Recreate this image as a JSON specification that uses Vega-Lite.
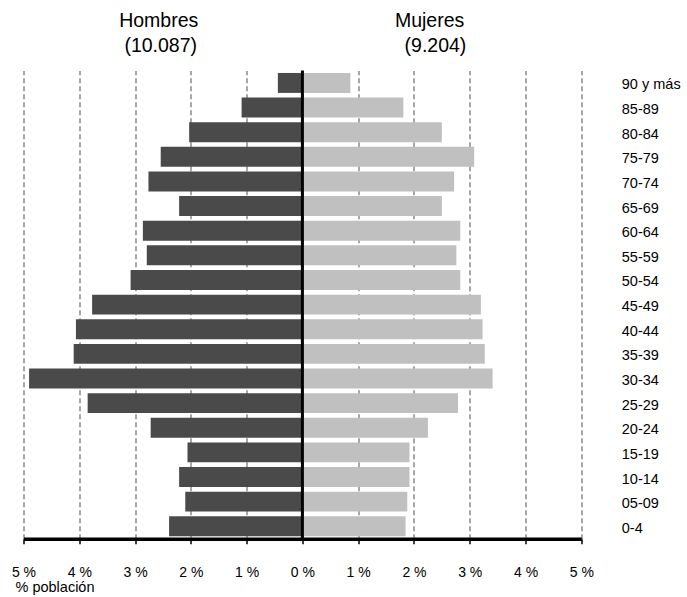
{
  "$schema": "https://vega.github.io/schema/vega-lite/v6.json",
  "width": 557.8,
  "height": 468.2,
  "autosize": {"type": "none"},
  "padding": {"left": 23.5, "top": 70.5, "right": 105.7, "bottom": 58.3},
  "background": "white",
  "config": {
    "view": {"stroke": null},
    "font": "Liberation Sans",
    "text": {"font": "Liberation Sans"}
  },
  "data": {
    "values": [
      {"edad": "90 y más", "sexo": "Hombres", "pct": -0.44}, {"edad": "90 y más", "sexo": "Mujeres", "pct": 0.86},
      {"edad": "85-89", "sexo": "Hombres", "pct": -1.09}, {"edad": "85-89", "sexo": "Mujeres", "pct": 1.81},
      {"edad": "80-84", "sexo": "Hombres", "pct": -2.03}, {"edad": "80-84", "sexo": "Mujeres", "pct": 2.50},
      {"edad": "75-79", "sexo": "Hombres", "pct": -2.54}, {"edad": "75-79", "sexo": "Mujeres", "pct": 3.08},
      {"edad": "70-74", "sexo": "Hombres", "pct": -2.76}, {"edad": "70-74", "sexo": "Mujeres", "pct": 2.72},
      {"edad": "65-69", "sexo": "Hombres", "pct": -2.21}, {"edad": "65-69", "sexo": "Mujeres", "pct": 2.50},
      {"edad": "60-64", "sexo": "Hombres", "pct": -2.86}, {"edad": "60-64", "sexo": "Mujeres", "pct": 2.83},
      {"edad": "55-59", "sexo": "Hombres", "pct": -2.79}, {"edad": "55-59", "sexo": "Mujeres", "pct": 2.76},
      {"edad": "50-54", "sexo": "Hombres", "pct": -3.08}, {"edad": "50-54", "sexo": "Mujeres", "pct": 2.83},
      {"edad": "45-49", "sexo": "Hombres", "pct": -3.77}, {"edad": "45-49", "sexo": "Mujeres", "pct": 3.20},
      {"edad": "40-44", "sexo": "Hombres", "pct": -4.06}, {"edad": "40-44", "sexo": "Mujeres", "pct": 3.23},
      {"edad": "35-39", "sexo": "Hombres", "pct": -4.10}, {"edad": "35-39", "sexo": "Mujeres", "pct": 3.27},
      {"edad": "30-34", "sexo": "Hombres", "pct": -4.90}, {"edad": "30-34", "sexo": "Mujeres", "pct": 3.41},
      {"edad": "25-29", "sexo": "Hombres", "pct": -3.85}, {"edad": "25-29", "sexo": "Mujeres", "pct": 2.79},
      {"edad": "20-24", "sexo": "Hombres", "pct": -2.72}, {"edad": "20-24", "sexo": "Mujeres", "pct": 2.25},
      {"edad": "15-19", "sexo": "Hombres", "pct": -2.06}, {"edad": "15-19", "sexo": "Mujeres", "pct": 1.92},
      {"edad": "10-14", "sexo": "Hombres", "pct": -2.21}, {"edad": "10-14", "sexo": "Mujeres", "pct": 1.92},
      {"edad": "05-09", "sexo": "Hombres", "pct": -2.10}, {"edad": "05-09", "sexo": "Mujeres", "pct": 1.88},
      {"edad": "0-4", "sexo": "Hombres", "pct": -2.39}, {"edad": "0-4", "sexo": "Mujeres", "pct": 1.85}
    ]
  },
  "layer": [
    {
      "mark": {"type": "bar"},
      "encoding": {
        "y": {
          "field": "edad",
          "type": "nominal",
          "sort": null,
          "scale": {"paddingInner": 0.19, "paddingOuter": 0.1},
          "axis": {
            "orient": "right",
            "title": null,
            "ticks": false,
            "domain": false,
            "grid": false,
            "labelPadding": 40,
            "labelAlign": "left",
            "labelOffset": 2.5,
            "labelFontSize": 14.5,
            "labelColor": "black"
          }
        },
        "x": {
          "field": "pct",
          "type": "quantitative",
          "scale": {"domain": [-5, 5], "nice": false},
          "axis": {
            "values": [-5, -4, -3, -2, -1, 0, 1, 2, 3, 4, 5],
            "labelExpr": "abs(datum.value) + ' %'",
            "labelFlush": false,
            "labelOverlap": false,
            "grid": true,
            "gridDash": [5, 3],
            "gridColor": "#8a8a8a",
            "gridWidth": 1.5,
            "domainColor": "black",
            "domainWidth": 3.5,
            "tickColor": "black",
            "tickSize": 5,
            "tickWidth": 1.5,
            "labelFontSize": 14,
            "labelColor": "black",
            "labelPadding": 22,
            "title": "% población",
            "titleFontSize": 14.5,
            "titleFontWeight": "normal",
            "titleColor": "black",
            "titleAnchor": "start",
            "titleAlign": "left",
            "titleBaseline": "alphabetic",
            "titleX": -8.5,
            "titleY": 53
          }
        },
        "color": {
          "field": "sexo",
          "type": "nominal",
          "scale": {"domain": ["Hombres", "Mujeres"], "range": ["#4a4a4a", "#c0c0c0"]},
          "legend": null
        }
      }
    },
    {
      "data": {"values": [{}]},
      "mark": {"type": "rule", "color": "black", "strokeWidth": 3},
      "encoding": {"x": {"datum": 0}}
    },
    {
      "data": {"values": [{}]},
      "mark": {"type": "text", "fontSize": 19.5, "align": "center", "baseline": "alphabetic", "dy": -56},
      "encoding": {"x": {"datum": -2.576}, "y": {"datum": "90 y más"}, "text": {"value": "Hombres"}}
    },
    {
      "data": {"values": [{}]},
      "mark": {"type": "text", "fontSize": 19.5, "align": "center", "baseline": "alphabetic", "dy": -31.3},
      "encoding": {"x": {"datum": -2.54}, "y": {"datum": "90 y más"}, "text": {"value": "(10.087)"}}
    },
    {
      "data": {"values": [{}]},
      "mark": {"type": "text", "fontSize": 19.5, "align": "center", "baseline": "alphabetic", "dy": -56},
      "encoding": {"x": {"datum": 2.28}, "y": {"datum": "90 y más"}, "text": {"value": "Mujeres"}}
    },
    {
      "data": {"values": [{}]},
      "mark": {"type": "text", "fontSize": 19.5, "align": "center", "baseline": "alphabetic", "dy": -31.3},
      "encoding": {"x": {"datum": 2.385}, "y": {"datum": "90 y más"}, "text": {"value": "(9.204)"}}
    }
  ]
}
